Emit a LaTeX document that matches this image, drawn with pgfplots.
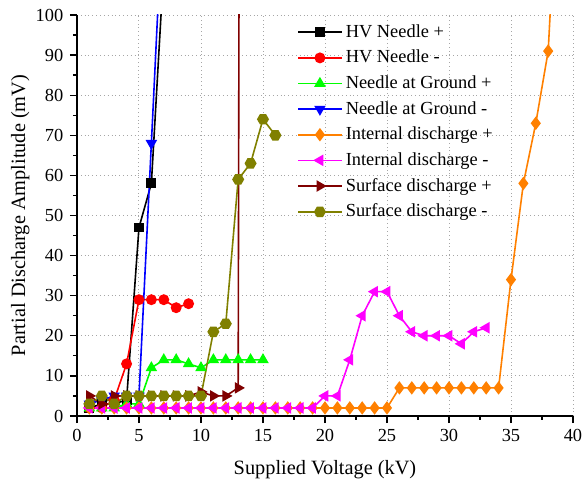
\documentclass[border=0pt]{standalone}
\usepackage{fontspec}
\setmainfont{Liberation Serif}
\usepackage{pgfplots}
\pgfplotsset{compat=1.18}
\usetikzlibrary{plotmarks}
\definecolor{cOrange}{RGB}{255,128,0}
\definecolor{cDarkRed}{RGB}{128,0,0}
\definecolor{cOlive}{RGB}{128,128,0}
\definecolor{cMag}{RGB}{255,0,255}
\definecolor{cGreen}{RGB}{0,255,0}
\definecolor{cBlue}{RGB}{0,0,255}
\definecolor{cRed}{RGB}{255,0,0}
\pgfdeclareplotmark{hexagon*}{%
  \pgfpathmoveto{\pgfqpointpolar{0}{\pgfplotmarksize}}%
  \pgfpathlineto{\pgfqpointpolar{60}{\pgfplotmarksize}}%
  \pgfpathlineto{\pgfqpointpolar{120}{\pgfplotmarksize}}%
  \pgfpathlineto{\pgfqpointpolar{180}{\pgfplotmarksize}}%
  \pgfpathlineto{\pgfqpointpolar{240}{\pgfplotmarksize}}%
  \pgfpathlineto{\pgfqpointpolar{300}{\pgfplotmarksize}}%
  \pgfpathclose\pgfusepathqfillstroke}
\begin{document}
\fontsize{11.5}{13.5}\selectfont
\begin{tikzpicture}
\begin{axis}[name=ax,
  scale only axis, width=310pt, height=250.6pt,
  xmin=0, xmax=40, ymin=0, ymax=100,
  xtick={0,5,...,40}, ytick={0,10,...,100},
  minor x tick num=1, minor y tick num=1,
  axis lines=left, axis line style={-, line width=0.9pt},
  tick align=outside, major tick length=4.5pt, minor tick length=2.5pt,
  every tick/.style={black, line width=0.8pt},
  grid=major, major grid style={gray!70, dotted, line width=0.6pt},
  /pgf/number format/assume math mode=true,
  tick label style={font=\fontsize{11.5}{13.5}\selectfont},
  label style={font=\fontsize{12.7}{14.5}\selectfont},
  xlabel={Supplied Voltage (kV)},
  ylabel={Partial Discharge Amplitude (mV)},
  xlabel style={yshift=-3.5pt},
  ylabel style={yshift=-4pt},
  legend cell align=left,
  legend style={draw=none, fill=none, at={(0.4435,0.985)}, anchor=north west,
    inner sep=0pt, font=\fontsize{11.5}{13.5}\selectfont, row sep=2.3pt},
  legend image code/.code={\draw[line width=1pt,mark repeat=2,mark phase=2] plot coordinates {(0cm,0cm)(0.48cm,0cm)(0.96cm,0cm)};},
  every axis plot/.append style={line width=1pt, mark size=3pt, mark options={solid}},
]
\addplot[black, mark=square*, mark size=2.6pt] coordinates {(1,2)(2,3)(3,3)(4,4)(5,47)(6,58)(7,112)};
\addlegendentry{HV Needle +}
\addplot[cRed, mark=*, mark size=2.9pt] coordinates {(1,2)(2,2)(3,4)(4,13)(5,29)(6,29)(7,29)(8,27)(9,28)};
\addlegendentry{HV Needle -}
\addplot[cGreen, mark=triangle*, mark size=3.2pt] coordinates {(1,2)(2,2)(3,2)(4,3)(5,3)(6,12)(7,14)(8,14)(9,13)(10,12)(11,14)(12,14)(13,14)(14,14)(15,14)};
\addlegendentry{Needle at Ground +}
\addplot[cBlue, mark=triangle*, mark size=3.2pt, mark options={rotate=180}] coordinates {(1,3)(2,4)(3,5)(4,5)(5,5)(6,68)(7,132)};
\addlegendentry{Needle at Ground -}
\addplot[cOrange, mark=diamond*, mark size=3.4pt] coordinates {(1,2)(2,2)(3,2)(4,2)(5,2)(6,2)(7,2)(8,2)(9,2)(10,2)(11,2)(12,2)(13,2)(14,2)(15,2)(16,2)(17,2)(18,2)(19,2)(20,2)(21,2)(22,2)(23,2)(24,2)(25,2)(26,7)(27,7)(28,7)(29,7)(30,7)(31,7)(32,7)(33,7)(34,7)(35,34)(36,58)(37,73)(38,91)(39,150)};
\addlegendentry{Internal discharge +}
\addplot[cMag, mark=triangle*, mark size=3.2pt, mark options={rotate=90}] coordinates {(1,2)(2,2)(3,2)(4,2)(5,2)(6,2)(7,2)(8,2)(9,2)(10,2)(11,2)(12,2)(13,2)(14,2)(15,2)(16,2)(17,2)(18,2)(19,2)(20,5)(21,5)(22,14)(23,25)(24,31)(25,31)(26,25)(27,21)(28,20)(29,20)(30,20)(31,18)(32,21)(33,22)};
\addlegendentry{Internal discharge -}
\addplot[cDarkRed, mark=triangle*, mark size=3.2pt, mark options={rotate=-90}] coordinates {(1,5)(2,3)(3,5)(4,5)(5,5)(6,5)(7,5)(8,5)(9,5)(10,6)(11,5)(12,5)(13,7)(14,1500)};
\addlegendentry{Surface discharge +}
\addplot[cOlive, mark=hexagon*, mark size=3.2pt] coordinates {(1,3)(2,5)(3,3)(4,5)(5,5)(6,5)(7,5)(8,5)(9,5)(10,5)(11,21)(12,23)(13,59)(14,63)(15,74)(16,70)};
\addlegendentry{Surface discharge -}
\end{axis}
\pgfresetboundingbox
\path[use as bounding box] ([shift={(-48.11pt,-40.62pt)}]ax.south west) rectangle ([shift={(6.25pt,9.37pt)}]ax.north east);
\end{tikzpicture}
\end{document}
